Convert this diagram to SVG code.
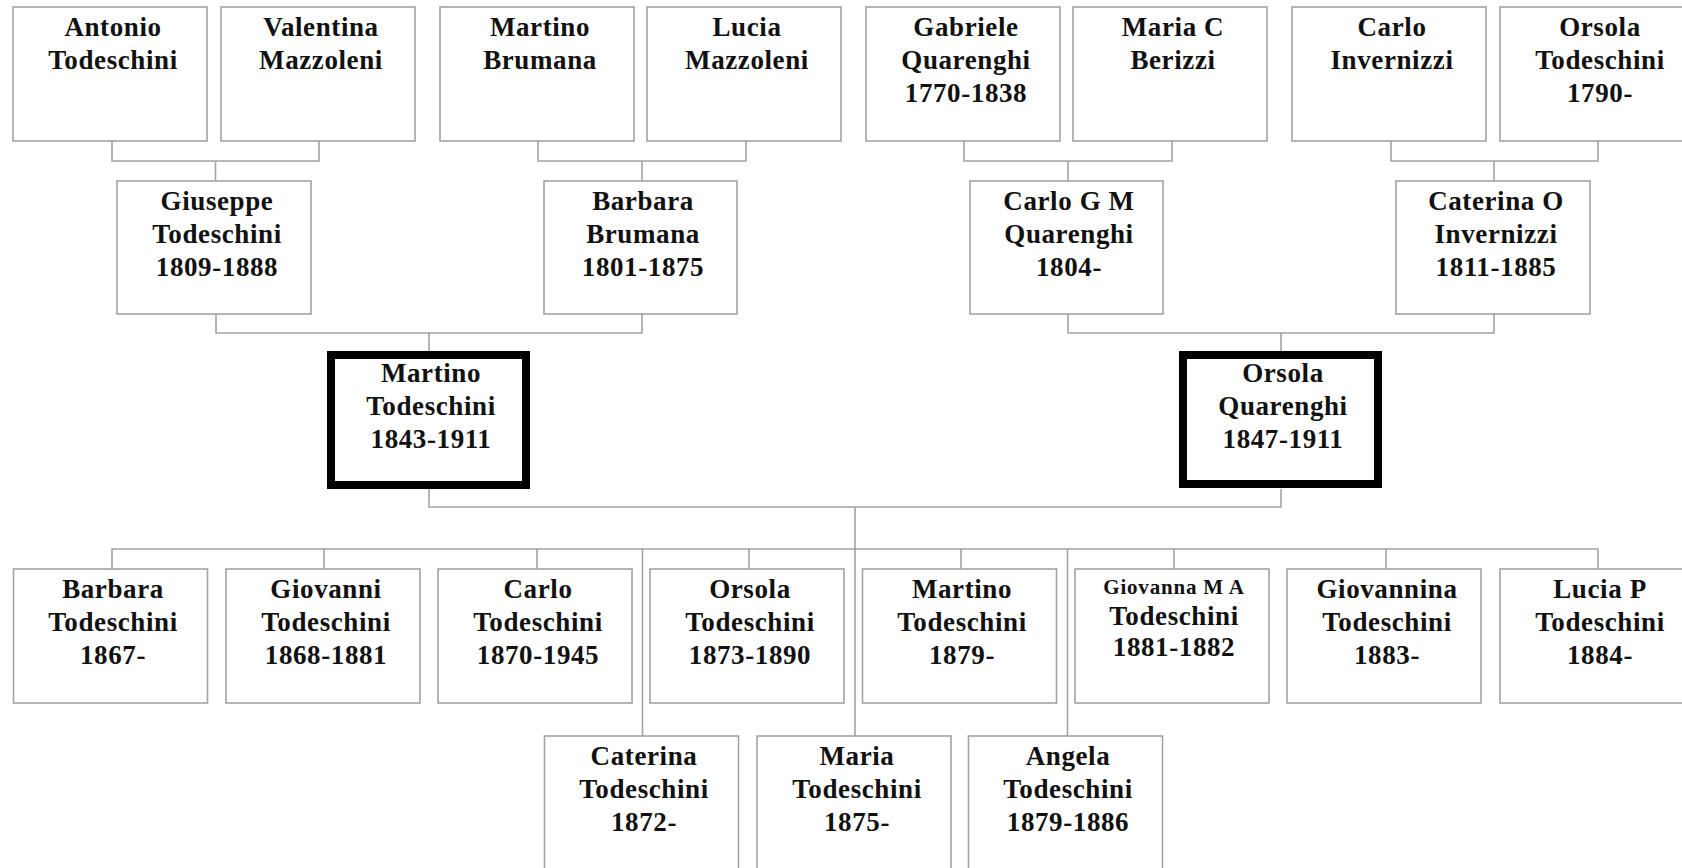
<svg xmlns="http://www.w3.org/2000/svg" width="1682" height="868" viewBox="0 0 1682 868">
<style>
.box{fill:#fff;stroke:#a3a3a3;stroke-width:1.6}
.bold{fill:#fff;stroke:#000;stroke-width:8}
.t{font-family:"Liberation Serif","Times New Roman",serif;font-weight:bold;font-size:27px;text-anchor:middle;fill:#111;letter-spacing:0.6px}
.s{font-size:21px;letter-spacing:0.8px}
.conn{stroke:#a3a3a3;stroke-width:1.6;fill:none}
</style>
<rect x="0" y="0" width="1682" height="868" fill="#fff"/>
<g id="connectors" class="conn">
<path d="M112 141V161H319V141M215.5 161V181"/>
<path d="M538 141V161H746V141M642 161V181"/>
<path d="M964 141V161H1172V141M1068 161V181"/>
<path d="M1391 141V161H1598V141M1494 161V181"/>
<path d="M216 314V333H642V314M429 333V351"/>
<path d="M1068 314V333H1494V314M1281 333V351"/>
<path d="M429 489V507H1281V489M855 507V736"/>
<path d="M112 569V549H1598V569"/>
<path d="M324 549V569M537 549V569M749 549V569M961 549V569M1174 549V569M1386 549V569"/>
<path d="M642.5 549V736M1067.5 549V736"/>
</g>
<g id="n-antonio"><rect class="box" x="13" y="7" width="194" height="134"/><text class="t" x="113" y="36">Antonio<tspan x="113" y="69">Todeschini</tspan></text></g>
<g id="n-valentina"><rect class="box" x="221" y="7" width="194" height="134"/><text class="t" x="321" y="36">Valentina<tspan x="321" y="69">Mazzoleni</tspan></text></g>
<g id="n-martino-b"><rect class="box" x="440" y="7" width="194" height="134"/><text class="t" x="540" y="36">Martino<tspan x="540" y="69">Brumana</tspan></text></g>
<g id="n-lucia-m"><rect class="box" x="647" y="7" width="194" height="134"/><text class="t" x="747" y="36">Lucia<tspan x="747" y="69">Mazzoleni</tspan></text></g>
<g id="n-gabriele"><rect class="box" x="866" y="7" width="194" height="134"/><text class="t" x="966" y="36">Gabriele<tspan x="966" y="69">Quarenghi</tspan><tspan x="966" y="102">1770-1838</tspan></text></g>
<g id="n-maria-c"><rect class="box" x="1073" y="7" width="194" height="134"/><text class="t" x="1173" y="36">Maria C<tspan x="1173" y="69">Berizzi</tspan></text></g>
<g id="n-carlo-i"><rect class="box" x="1292" y="7" width="194" height="134"/><text class="t" x="1392" y="36">Carlo<tspan x="1392" y="69">Invernizzi</tspan></text></g>
<g id="n-orsola-t"><rect class="box" x="1500" y="7" width="194" height="134"/><text class="t" x="1600" y="36">Orsola<tspan x="1600" y="69">Todeschini</tspan><tspan x="1600" y="102">1790-</tspan></text></g>
<g id="n-giuseppe"><rect class="box" x="117" y="181" width="194" height="133"/><text class="t" x="217" y="210">Giuseppe<tspan x="217" y="243">Todeschini</tspan><tspan x="217" y="276">1809-1888</tspan></text></g>
<g id="n-barbara-b"><rect class="box" x="544" y="181" width="193" height="133"/><text class="t" x="643" y="210">Barbara<tspan x="643" y="243">Brumana</tspan><tspan x="643" y="276">1801-1875</tspan></text></g>
<g id="n-carlo-gm"><rect class="box" x="970" y="181" width="193" height="133"/><text class="t" x="1069" y="210">Carlo G M<tspan x="1069" y="243">Quarenghi</tspan><tspan x="1069" y="276">1804-</tspan></text></g>
<g id="n-caterina-o"><rect class="box" x="1396" y="181" width="194" height="133"/><text class="t" x="1496" y="210">Caterina O<tspan x="1496" y="243">Invernizzi</tspan><tspan x="1496" y="276">1811-1885</tspan></text></g>
<g id="n-martino-t"><rect class="bold" x="331" y="355" width="195" height="130"/><text class="t" x="431" y="382">Martino<tspan x="431" y="415">Todeschini</tspan><tspan x="431" y="448">1843-1911</tspan></text></g>
<g id="n-orsola-q"><rect class="bold" x="1183" y="355" width="195" height="129"/><text class="t" x="1283" y="382">Orsola<tspan x="1283" y="415">Quarenghi</tspan><tspan x="1283" y="448">1847-1911</tspan></text></g>
<g id="c-barbara"><rect class="box" x="13.5" y="569" width="194" height="134"/><text class="t" x="113" y="598">Barbara<tspan x="113" y="631">Todeschini</tspan><tspan x="113" y="664">1867-</tspan></text></g>
<g id="c-giovanni"><rect class="box" x="226" y="569" width="194" height="134"/><text class="t" x="326" y="598">Giovanni<tspan x="326" y="631">Todeschini</tspan><tspan x="326" y="664">1868-1881</tspan></text></g>
<g id="c-carlo"><rect class="box" x="438" y="569" width="194" height="134"/><text class="t" x="538" y="598">Carlo<tspan x="538" y="631">Todeschini</tspan><tspan x="538" y="664">1870-1945</tspan></text></g>
<g id="c-orsola"><rect class="box" x="650" y="569" width="194" height="134"/><text class="t" x="750" y="598">Orsola<tspan x="750" y="631">Todeschini</tspan><tspan x="750" y="664">1873-1890</tspan></text></g>
<g id="c-martino"><rect class="box" x="862.5" y="569" width="194" height="134"/><text class="t" x="962" y="598">Martino<tspan x="962" y="631">Todeschini</tspan><tspan x="962" y="664">1879-</tspan></text></g>
<g id="c-giovanna"><rect class="box" x="1075" y="569" width="194" height="134"/><text class="t" x="1174" y="594"><tspan class="s">Giovanna M A</tspan><tspan x="1174" y="625">Todeschini</tspan><tspan x="1174" y="656">1881-1882</tspan></text></g>
<g id="c-giovannina"><rect class="box" x="1287" y="569" width="194" height="134"/><text class="t" x="1387" y="598">Giovannina<tspan x="1387" y="631">Todeschini</tspan><tspan x="1387" y="664">1883-</tspan></text></g>
<g id="c-lucia"><rect class="box" x="1500" y="569" width="194" height="134"/><text class="t" x="1600" y="598">Lucia P<tspan x="1600" y="631">Todeschini</tspan><tspan x="1600" y="664">1884-</tspan></text></g>
<g id="c-caterina"><rect class="box" x="544.5" y="736" width="194" height="134"/><text class="t" x="644" y="765">Caterina<tspan x="644" y="798">Todeschini</tspan><tspan x="644" y="831">1872-</tspan></text></g>
<g id="c-maria"><rect class="box" x="757" y="736" width="194" height="134"/><text class="t" x="857" y="765">Maria<tspan x="857" y="798">Todeschini</tspan><tspan x="857" y="831">1875-</tspan></text></g>
<g id="c-angela"><rect class="box" x="968.5" y="736" width="194" height="134"/><text class="t" x="1068" y="765">Angela<tspan x="1068" y="798">Todeschini</tspan><tspan x="1068" y="831">1879-1886</tspan></text></g>
</svg>
